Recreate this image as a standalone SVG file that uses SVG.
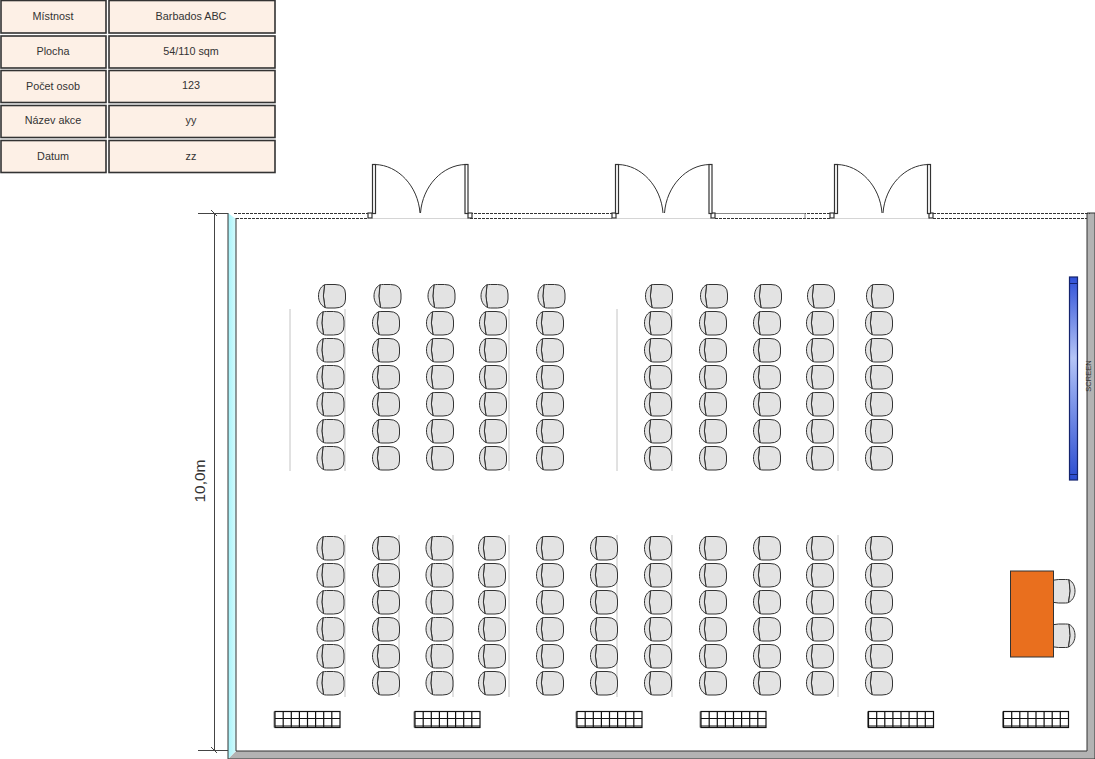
<svg xmlns="http://www.w3.org/2000/svg" width="1095" height="759" viewBox="0 0 1095 759">
<style>
text{font-family:"Liberation Sans",Arial,sans-serif;fill:#333}
.cell{fill:#fdf0e6;stroke:#333;stroke-width:1.6}
.lbl{font-size:10.8px;text-anchor:middle}
.chair-s{fill:#e3e3e3;stroke:#333;stroke-width:1}
.guide{stroke:#c4c4c4;stroke-width:1;fill:none}
.dash{stroke:#333;stroke-width:1;stroke-dasharray:3 1;fill:none}
.door{fill:none;stroke:#333;stroke-width:1}
.jamb{fill:#fff;stroke:#333;stroke-width:1.2}
.grid{fill:#fff;stroke:#111;stroke-width:1.2}
</style>
<defs>
<g id="chair">
<path class="chair-s" d="M6.500 .8Q8 .5 10 .5H17Q27.500 .5 27.500 10V15Q27.500 24 17 24H10Q8 24 7 23.500Q4 12 6.500 .8Z"/>
<path class="chair-s" d="M6.500 .8C2 3 .5 8 .5 12C.5 16 2 21 7 23.500Q4 12 6.500 .8Z"/>
</g>
<g id="table">
<rect x="-.5" y=".5" width="2" height="16" fill="#888"/>
<rect class="grid" x="1" y=".5" width="65" height="16"/>
<path fill="none" stroke="#111" stroke-width="1.200" d="M9.200 .5V16.500M17.300 .5V16.500M25.400 .5V16.500M33.500 .5V16.500M41.600 .5V16.500M49.700 .5V16.500M57.800 .5V16.500M1 7.500H66M1 15H66"/>
</g>
<g id="door-leaf">
<rect class="jamb" x="0.500" y="0.500" width="3" height="49"/>
<path class="door" d="M3 .5C26 1 46 22 48 49"/>
</g>
<linearGradient id="scr" x1="0" y1="0" x2="0" y2="1">
<stop offset="0" stop-color="#2f50d8"/><stop offset=".4" stop-color="#b4c4f6"/><stop offset=".55" stop-color="#8ea4ee"/><stop offset="1" stop-color="#2b4cd0"/>
</linearGradient>
<linearGradient id="glass" x1="0" y1="0" x2="1" y2="0">
<stop offset="0" stop-color="#a8f3fa"/><stop offset="1" stop-color="#d4fbfd"/>
</linearGradient>
<g id="row-a"><use href="#chair" x="0"/><use href="#chair" x="55.500"/><use href="#chair" x="109.500"/><use href="#chair" x="162.500"/><use href="#chair" x="219.500"/></g>
<g id="row-b"><use href="#chair" x="0"/><use href="#chair" x="55"/><use href="#chair" x="109"/><use href="#chair" x="162"/><use href="#chair" x="221"/></g>
<g id="row-c"><use href="#chair" x="0"/><use href="#chair" x="55.500"/><use href="#chair" x="109"/><use href="#chair" x="161.500"/><use href="#chair" x="219.500"/><use href="#chair" x="273.500"/><use href="#chair" x="327.500"/><use href="#chair" x="382.500"/><use href="#chair" x="436.500"/><use href="#chair" x="489.500"/><use href="#chair" x="548.500"/></g>
</defs>

<g id="info-table">
<g id="row-mistnost"><rect class="cell" x="1" y="0.500" width="105" height="32.500"/><rect class="cell" x="109" y="0.500" width="166" height="32.500"/><text class="lbl" x="53" y="20">Místnost</text><text class="lbl" x="191" y="20">Barbados ABC</text></g>
<g id="row-plocha"><rect class="cell" x="1" y="36" width="105" height="32"/><rect class="cell" x="109" y="36" width="166" height="32"/><text class="lbl" x="53" y="55">Plocha</text><text class="lbl" x="191" y="55">54/110 sqm</text></g>
<g id="row-pocet"><rect class="cell" x="1" y="70.500" width="105" height="32"/><rect class="cell" x="109" y="70.500" width="166" height="32"/><text class="lbl" x="53" y="90">Počet osob</text><text class="lbl" x="191" y="89">123</text></g>
<g id="row-nazev"><rect class="cell" x="1" y="105.500" width="105" height="32"/><rect class="cell" x="109" y="105.500" width="166" height="32"/><text class="lbl" x="53" y="124">Název akce</text><text class="lbl" x="191" y="124">yy</text></g>
<g id="row-datum"><rect class="cell" x="1" y="140.500" width="105" height="32"/><rect class="cell" x="109" y="140.500" width="166" height="32"/><text class="lbl" x="53" y="160">Datum</text><text class="lbl" x="191" y="160">zz</text></g>
</g>

<g id="room">
<path fill="#b3b3b3" d="M228 759L236 751H1087V213H1095V759Z"/>
<path fill="url(#glass)" d="M228 213L236 219V751L228 759Z"/>
<path fill="none" stroke="#333" stroke-width="1" d="M228 213V759H1095V213H1087V751H236V218"/>
<path class="dash" d="M234 213.500H368M236 218.500H368M470 213.500H612M470 218.500H612M715 213.500H830M715 218.500H830M933 213.500H1090M933 218.500H1087"/>
<path stroke="#888" stroke-width="1" fill="none" d="M522 218.500H612M715 213.500H805M805 213.500V218.500"/>
<path stroke="#d5d5d5" stroke-width="1" fill="none" d="M372 218.500H468M616 218.500H711M834 218.500H930"/>
</g>

<g id="door-1">
<rect class="jamb" x="368" y="213" width="4" height="5"/><rect class="jamb" x="468" y="213" width="4" height="5"/>
<use href="#door-leaf" x="372" y="164"/>
<use href="#door-leaf" transform="translate(468.500 164) scale(-1 1)"/>
</g>
<g id="door-2">
<rect class="jamb" x="612" y="213" width="4" height="5"/><rect class="jamb" x="711" y="213" width="4" height="5"/>
<use href="#door-leaf" x="615" y="164"/>
<use href="#door-leaf" transform="translate(712.500 164) scale(-1 1)"/>
</g>
<g id="door-3">
<rect class="jamb" x="830" y="213" width="4" height="5"/><rect class="jamb" x="929" y="213" width="4" height="5"/>
<use href="#door-leaf" x="834" y="164"/>
<use href="#door-leaf" transform="translate(931 164) scale(-1 1)"/>
</g>

<g id="dimension">
<path fill="none" stroke="#444" stroke-width="1" d="M198 213.500H228M198 750.500H228M214.500 213V751M211 210L217 216M211 747L217 753"/>
<text x="205" y="481" font-size="15.500" transform="rotate(-90 205 481)" text-anchor="middle">10,0m</text>
</g>

<g id="guides">
<path class="guide" d="M290 309V471M345 309V471M509 309V471M617 309V471M672 309V471M838 309V471M345 535V697M399 535V697M453 535V697M509 535V697M617 535V697M672 535V697M838 535V697"/>
</g>

<g id="seats-upper-left">
<use href="#row-a" x="318" y="284"/>
<use href="#row-a" x="316.500" y="311"/><use href="#row-a" x="316.500" y="338"/><use href="#row-a" x="316.500" y="365"/><use href="#row-a" x="316.500" y="392"/><use href="#row-a" x="316.500" y="419"/><use href="#row-a" x="316.500" y="446"/>
</g>
<g id="seats-upper-right">
<use href="#row-b" x="645" y="284"/>
<use href="#row-b" x="644" y="311"/><use href="#row-b" x="644" y="338"/><use href="#row-b" x="644" y="365"/><use href="#row-b" x="644" y="392"/><use href="#row-b" x="644" y="419"/><use href="#row-b" x="644" y="446"/>
</g>
<g id="seats-lower">
<use href="#row-c" x="316.500" y="536"/><use href="#row-c" x="316.500" y="563"/><use href="#row-c" x="316.500" y="590"/><use href="#row-c" x="316.500" y="617"/><use href="#row-c" x="316.500" y="644"/><use href="#row-c" x="316.500" y="671"/>
</g>

<g id="tables">
<use href="#table" x="274" y="711"/><use href="#table" x="414" y="711"/><use href="#table" x="576" y="711"/><use href="#table" x="700" y="711"/><use href="#table" x="867.500" y="711"/><use href="#table" x="1002.500" y="711"/>
</g>

<g id="screen">
<rect x="1069.500" y="277" width="8" height="203" fill="url(#scr)" stroke="#14246e" stroke-width="1.200"/>
<path stroke="#14246e" stroke-width="1" fill="none" d="M1069 283.500H1078M1069 474.500H1078"/>
<text x="1090.500" y="376" font-size="7.500" text-anchor="middle" transform="rotate(-90 1090.500 376)">SCREEN</text>
</g>

<g id="presenter-desk">
<use href="#chair" transform="translate(1075.500 579) scale(-1 1)"/>
<use href="#chair" transform="translate(1075.500 623.500) scale(-1 1)"/>
<rect x="1010.500" y="571" width="43" height="86" fill="#e96f1e" stroke="#333" stroke-width="1"/>
</g>
</svg>
